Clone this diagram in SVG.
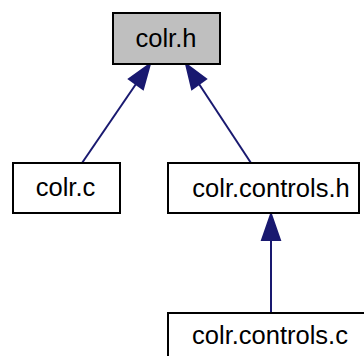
<svg xmlns="http://www.w3.org/2000/svg" width="364" height="356" viewBox="0 0 364 356">
<style>
.node rect{fill:#ffffff;stroke:#000000;stroke-width:2}
.node text{font-family:"Liberation Sans",Arial,sans-serif;font-size:25.5px;fill:#000000;text-anchor:middle}
.edge line{stroke:#191970;stroke-width:2}
.edge polygon{fill:#191970;stroke:#191970;stroke-width:2}
</style>
<rect width="364" height="356" fill="#ffffff"/>
<g id="connectors">
<g class="edge"><line x1="82" y1="163" x2="136" y2="84"/><polygon points="150,64 143,89 129,79"/></g>
<g class="edge"><line x1="251" y1="163" x2="199" y2="84"/><polygon points="186,64 206,79 192,89"/></g>
<g class="edge"><line x1="271" y1="312" x2="271" y2="240"/><polygon points="271,214 280,240 262,240"/></g>
</g>
<g id="node-colr-h" class="node"><rect x="113" y="13" width="107" height="51" style="fill:#bfbfbf"/><text x="166" y="47">colr.h</text></g>
<g id="node-colr-c" class="node"><rect x="13" y="163" width="107" height="50"/><text x="65.5" y="196">colr.c</text></g>
<g id="node-colr-controls-h" class="node"><rect x="168" y="163" width="191" height="50"/><text x="271" y="197">colr.controls.h</text></g>
<g id="node-colr-controls-c" class="node"><rect x="168" y="313" width="200" height="50"/><text x="270" y="344">colr.controls.c</text></g>
</svg>
